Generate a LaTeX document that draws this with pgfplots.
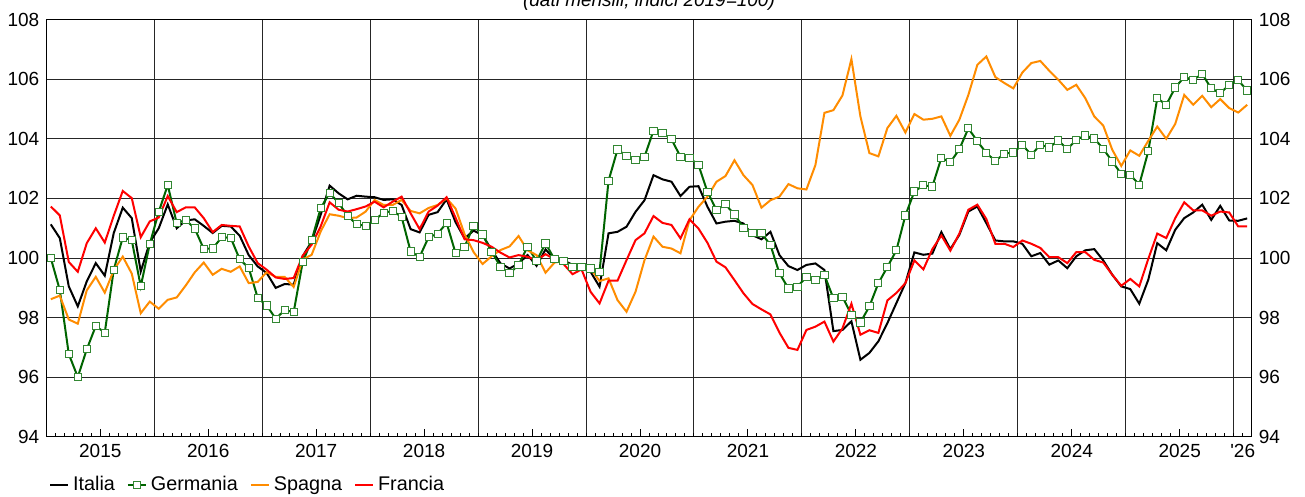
\documentclass[border=0pt]{standalone}
\usepackage{fontspec}
\setmainfont{Liberation Sans}
\usepackage{pgfplots}
\usepackage{pgfplotstable}
\pgfplotsset{compat=1.18}
\definecolor{dec}{RGB}{0,100,0}
\definecolor{demk}{RGB}{50,135,50}
\definecolor{esc}{RGB}{255,140,0}
\definecolor{frc}{RGB}{255,0,0}

% mese (0 = gen 2015), Italia, Germania, Spagna, Francia
\pgfplotstableread{
m it de es fr
0 101.13 100.00 98.62 101.73
1 100.67 98.93 98.74 101.43
2 99.05 96.78 97.94 99.87
3 98.38 96.01 97.80 99.54
4 99.22 96.94 98.92 100.50
5 99.83 97.72 99.37 101.00
6 99.41 97.50 98.84 100.52
7 100.84 99.61 99.60 101.42
8 101.69 100.69 100.05 102.25
9 101.34 100.60 99.48 102.01
10 99.55 99.05 98.15 100.70
11 100.52 100.47 98.54 101.23
12 101.00 101.55 98.30 101.36
13 101.80 102.45 98.60 102.08
14 101.00 101.17 98.68 101.54
15 101.26 101.28 99.08 101.70
16 101.30 100.99 99.52 101.70
17 101.08 100.31 99.85 101.34
18 100.84 100.32 99.44 100.87
19 101.08 100.70 99.64 101.11
20 101.06 100.68 99.54 101.08
21 100.75 99.96 99.72 101.06
22 100.10 99.67 99.16 100.39
23 99.72 98.67 99.20 99.83
24 99.50 98.41 99.53 99.61
25 99.00 97.97 99.37 99.35
26 99.13 98.25 99.37 99.30
27 99.11 98.19 99.03 99.33
28 100.06 99.86 99.95 100.08
29 100.56 100.60 100.11 100.45
30 101.45 101.67 100.89 101.06
31 102.43 102.19 101.47 101.87
32 102.17 101.84 101.42 101.62
33 101.97 101.42 101.34 101.56
34 102.09 101.13 101.36 101.64
35 102.06 101.08 101.56 101.73
36 102.04 101.28 101.95 101.89
37 101.95 101.52 101.78 101.70
38 101.97 101.58 101.78 101.89
39 101.78 101.38 101.95 102.06
40 100.97 100.22 101.58 101.50
41 100.86 100.04 101.50 100.97
42 101.45 100.70 101.68 101.56
43 101.54 100.81 101.78 101.76
44 101.97 101.18 102.00 102.04
45 101.20 100.16 101.66 101.35
46 100.66 100.38 100.80 100.63
47 100.92 101.08 100.20 100.60
48 100.77 100.79 99.80 100.51
49 100.27 100.21 100.06 100.38
50 99.82 99.71 100.27 100.18
51 99.65 99.49 100.39 100.02
52 99.82 99.77 100.74 100.10
53 100.10 100.38 100.26 100.04
54 99.74 99.90 100.10 99.93
55 100.29 100.49 99.51 100.13
56 99.96 99.96 99.85 99.96
57 99.93 99.91 99.90 99.80
58 99.77 99.69 99.71 99.46
59 99.65 99.69 99.71 99.62
60 99.54 99.65 99.65 98.87
61 99.04 99.54 99.23 98.48
62 100.83 102.59 99.32 99.24
63 100.88 103.64 98.59 99.24
64 101.05 103.42 98.20 99.93
65 101.55 103.28 98.87 100.60
66 101.94 103.40 99.93 100.83
67 102.78 104.27 100.72 101.41
68 102.64 104.20 100.38 101.18
69 102.56 103.98 100.32 101.11
70 102.08 103.40 100.16 100.66
71 102.39 103.36 101.27 101.30
72 102.41 103.12 101.72 100.99
73 101.72 102.22 102.06 100.51
74 101.16 101.61 102.56 99.88
75 101.22 101.80 102.75 99.69
76 101.25 101.46 103.28 99.26
77 101.16 101.02 102.78 98.82
78 100.77 100.83 102.45 98.46
79 100.63 100.83 101.69 98.28
80 100.88 100.44 101.94 98.11
81 100.10 99.49 102.06 97.50
82 99.73 98.98 102.48 96.99
83 99.60 99.04 102.34 96.92
84 99.77 99.37 102.30 97.59
85 99.82 99.26 103.12 97.70
86 99.60 99.43 104.87 97.87
87 97.55 98.65 104.96 97.20
88 97.59 98.70 105.45 97.64
89 97.88 98.10 106.67 98.47
90 96.59 97.84 104.75 97.43
91 96.82 98.38 103.52 97.58
92 97.21 99.16 103.41 97.49
93 97.82 99.70 104.36 98.58
94 98.49 100.26 104.77 98.83
95 99.16 101.43 104.21 99.16
96 100.19 102.23 104.83 99.92
97 100.11 102.44 104.64 99.62
98 100.15 102.40 104.67 100.30
99 100.87 103.36 104.75 100.76
100 100.30 103.21 104.10 100.25
101 100.78 103.65 104.64 100.82
102 101.56 104.35 105.47 101.62
103 101.73 103.92 106.48 101.79
104 101.17 103.52 106.76 101.31
105 100.59 103.26 106.07 100.48
106 100.56 103.50 105.87 100.48
107 100.56 103.54 105.69 100.37
108 100.48 103.80 106.22 100.59
109 100.06 103.46 106.54 100.48
110 100.17 103.80 106.61 100.34
111 99.78 103.71 106.28 100.03
112 99.92 103.94 105.98 100.03
113 99.66 103.65 105.64 99.83
114 100.06 103.97 105.81 100.20
115 100.26 104.11 105.36 100.20
116 100.30 104.01 104.75 99.94
117 99.92 103.66 104.44 99.85
118 99.44 103.24 103.63 99.44
119 99.05 102.82 103.09 99.07
120 98.96 102.79 103.61 99.30
121 98.47 102.46 103.43 99.05
122 99.27 103.58 103.93 99.97
123 100.50 105.36 104.41 100.82
124 100.26 105.14 104.00 100.67
125 100.95 105.72 104.50 101.34
126 101.34 106.07 105.47 101.87
127 101.53 105.98 105.14 101.60
128 101.79 106.17 105.44 101.60
129 101.28 105.69 105.06 101.42
130 101.75 105.53 105.33 101.56
131 101.26 105.81 105.03 101.53
132 101.25 105.96 104.88 101.06
133 101.33 105.62 105.14 101.06
}\dati

\pgfplotsset{
  base/.style={
    scale only axis, width=602.7pt, height=208.75pt,
    xmin=0, xmax=134, ymin=94, ymax=108,
    ytick={94,96,...,108},
    ytick style={draw=none},
    axis line style={black, line width=0.5pt},
    tick label style={font=\fontsize{9.5}{11}\selectfont},
    /pgf/number format/assume math mode=true,
  },
}

\begin{document}
\begin{tikzpicture}
\path[use as bounding box] (-23.15pt,-30pt) rectangle (629.35pt,218.5pt);

% griglia e etichette a destra
\begin{axis}[base,
  xtick={12,24,...,132}, xticklabels={},
  xtick style={draw=none},
  xmajorgrids, ymajorgrids,
  major grid style={black!85, line width=0.5pt},
  yticklabel pos=right,
]
\end{axis}

\begin{axis}[base,
  xtick={6,18,...,126}, xticklabels={2015,2016,2017,2018,2019,2020,2021,2022,2023,2024,2025},
  extra x ticks={133}, extra x tick labels={\textquotesingle 26},
  extra x tick style={major tick length=2.2pt},
  minor xtick={1,...,133},
  xtick pos=left, xtick align=inside,
  major tick length=4pt, minor tick length=2.2pt,
  xtick style={black, line width=0.5pt},
  legend columns=4,
  legend style={at={(0.002,-0.115)}, anchor=west, draw=none, fill=none,
    inner sep=0pt, font=\fontsize{9.9}{11}\selectfont,
    /tikz/every even column/.append style={column sep=4pt}},
  legend image code/.code={\draw[mark repeat=2,mark phase=2,#1]
    plot coordinates {(0pt,0pt) (4.5pt,0pt) (9pt,0pt)};},
]
\addplot[black, line width=1pt] table[x expr=\thisrow{m}+0.5, y=it] {\dati};
\addplot[dec, line width=1pt, mark=square*, mark size=1.8pt,
  mark options={fill=white, draw=demk, line width=0.5pt}]
  table[x expr=\thisrow{m}+0.5, y=de] {\dati};
\addplot[esc, line width=1pt] table[x expr=\thisrow{m}+0.5, y=es] {\dati};
\addplot[frc, line width=1pt] table[x expr=\thisrow{m}+0.5, y=fr] {\dati};
\legend{Italia, Germania, Spagna, Francia}
\end{axis}

\node[anchor=base, font=\fontsize{9.5}{11}\selectfont\itshape] at (301.35pt,215pt)
  {(dati mensili, indici 2019=100)};
\end{tikzpicture}
\end{document}
